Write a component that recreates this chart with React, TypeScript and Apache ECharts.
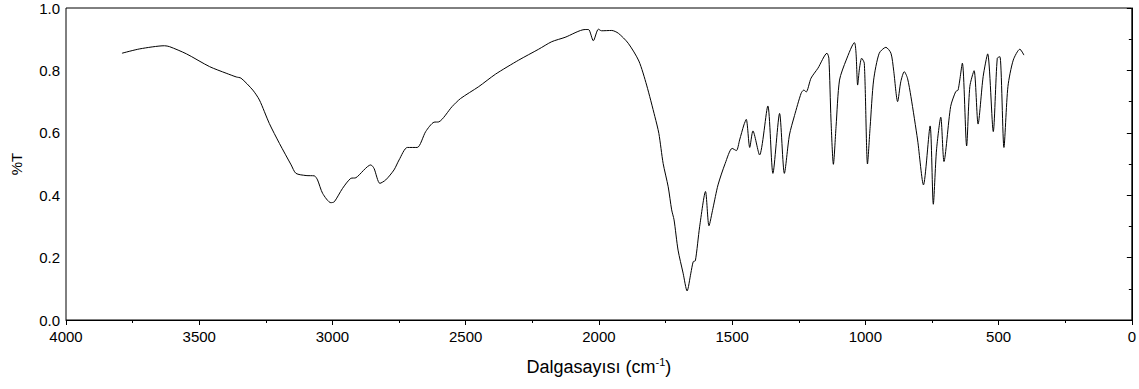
import React, { useEffect, useRef } from "react";
import * as echarts from "echarts";

const wavenumbers: number[] = [
  3790, 3723, 3630, 3611, 3548, 3461, 3399, 3361, 3343, 3299, 3274, 3237, 3199, 3155, 3137, 3099, 3068, 3056,
  3037, 3006, 2993, 2962, 2931, 2912, 2856, 2844, 2822, 2800, 2769, 2750, 2719, 2682, 2650, 2619, 2601, 2551,
  2519, 2451, 2388, 2301, 2226, 2177, 2127, 2052, 2039, 2021, 2002, 1990, 1952, 1927, 1890, 1850, 1821, 1790,
  1775, 1759, 1740, 1727, 1718, 1703, 1684, 1669, 1655, 1646, 1638, 1622, 1600, 1587, 1572, 1553, 1526, 1500,
  1484, 1472, 1456, 1447, 1434, 1422, 1397, 1366, 1347, 1322, 1304, 1285, 1266, 1241, 1231, 1222, 1204, 1178,
  1144, 1137, 1129, 1120, 1110, 1097, 1072, 1041, 1035, 1029, 1022, 1014, 1004, 992, 982, 969, 948, 923, 904,
  894, 879, 867, 854, 842, 829, 804, 782, 757, 745, 733, 717, 705, 680, 661, 652, 636, 620, 608, 592, 577, 558,
  541, 520, 505, 495, 480, 465, 445, 420, 405,
];

const transmittance: number[] = [
  0.855, 0.869, 0.879, 0.876, 0.853, 0.812, 0.791, 0.779, 0.775, 0.737, 0.705, 0.63, 0.566, 0.497, 0.47, 0.463,
  0.462, 0.449, 0.406, 0.376, 0.379, 0.422, 0.454, 0.456, 0.497, 0.486, 0.438, 0.449, 0.481, 0.513, 0.553, 0.553,
  0.604, 0.634, 0.635, 0.684, 0.71, 0.748, 0.788, 0.833, 0.868, 0.892, 0.906, 0.931, 0.931, 0.895, 0.932, 0.927,
  0.928, 0.919, 0.887, 0.83, 0.753, 0.652, 0.598, 0.502, 0.427, 0.353, 0.321, 0.224, 0.15, 0.093, 0.15, 0.187,
  0.19, 0.299, 0.412, 0.302, 0.358, 0.433, 0.502, 0.55, 0.543, 0.577, 0.625, 0.643, 0.553, 0.606, 0.529, 0.686,
  0.47, 0.662, 0.47, 0.593, 0.655, 0.727, 0.737, 0.731, 0.775, 0.807, 0.855, 0.839, 0.641, 0.499, 0.62, 0.769,
  0.833, 0.889, 0.855, 0.753, 0.807, 0.839, 0.823, 0.5, 0.62, 0.769, 0.855, 0.874, 0.855, 0.801, 0.7, 0.764,
  0.796, 0.775, 0.716, 0.577, 0.433, 0.622, 0.371, 0.545, 0.65, 0.508, 0.684, 0.732, 0.737, 0.823, 0.558, 0.748,
  0.799, 0.628, 0.78, 0.853, 0.604, 0.839, 0.844, 0.553, 0.748, 0.833, 0.868, 0.849,
];

const FONT = "Arial, 'Liberation Sans', sans-serif";

export default function App() {
  const ref = useRef<HTMLDivElement>(null);
  useEffect(() => {
    if (!ref.current) return;
    const chart = echarts.init(ref.current, undefined, { renderer: "svg" });
    const data = wavenumbers.map((w, i) => [w, transmittance[i]]);
    chart.setOption({
      animation: false,
      backgroundColor: "#ffffff",
      grid: {
        left: 66,
        right: 4,
        top: 8,
        bottom: 69,
        show: true,
        borderColor: "#000",
        borderWidth: 1,
      },
      xAxis: {
        type: "value",
        min: 0,
        max: 4000,
        interval: 500,
        inverse: true,
        name: "Dalgasayısı (cm{sup|-1})",
        nameLocation: "middle",
        nameGap: 36,
        nameTextStyle: {
          fontFamily: FONT,
          fontSize: 18,
          color: "#000",
          rich: { sup: { fontSize: 11, verticalAlign: "top", padding: [0, 0, 10, 0], fontFamily: FONT, color: "#000" } },
        },
        axisLine: { show: true, lineStyle: { color: "#000", width: 1 } },
        axisTick: { show: true, length: 5, lineStyle: { color: "#000" } },
        minorTick: { show: true, splitNumber: 2, length: 3, lineStyle: { color: "#000" } },
        splitLine: { show: false },
        axisLabel: {
          fontFamily: FONT,
          fontSize: 15,
          color: "#000",
          margin: 9,
          formatter: (v: number) => String(v),
        },
      },
      yAxis: {
        type: "value",
        min: 0,
        max: 1,
        interval: 0.2,
        name: "%T",
        nameLocation: "middle",
        nameGap: 42,
        nameTextStyle: { fontFamily: FONT, fontSize: 15, color: "#000" },
        axisLine: { show: true, lineStyle: { color: "#000", width: 1 } },
        axisTick: { show: true, length: 5, lineStyle: { color: "#000" } },
        minorTick: { show: true, splitNumber: 2, length: 3, lineStyle: { color: "#000" } },
        splitLine: { show: false },
        axisLabel: {
          fontFamily: FONT,
          fontSize: 15,
          color: "#000",
          margin: 6,
          formatter: (v: number) => v.toFixed(1),
        },
      },
      series: [
        {
          type: "line",
          data,
          showSymbol: false,
          smooth: 0.25,
          lineStyle: { color: "#000", width: 1 },
        },
      ],
    });
    return () => chart.dispose();
  }, []);
  return (
    <div
      ref={ref}
      style={{ position: "fixed", left: 0, top: 0, width: 1139, height: 389, background: "#fff" }}
    />
  );
}
